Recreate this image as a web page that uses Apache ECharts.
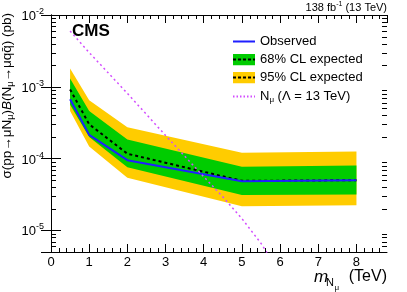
<!DOCTYPE html>
<html><head><meta charset="utf-8">
<script src="https://cdn.jsdelivr.net/npm/echarts@6/dist/echarts.min.js"></script>
<style>html,body{margin:0;padding:0;background:#fff}#c{width:407px;height:292px}</style>
</head><body><div id="c"></div>
<script>
// ---- data ----
const massPoints = [0.5, 1, 2, 5, 8];
const observed   = [6.7e-4, 2.14e-4, 9.5e-5, 4.85e-5, 5.0e-5];
const expected   = [9.2e-4, 3.0e-4, 1.17e-4, 4.9e-5, 5.0e-5];
const exp68Low   = [5.6e-4, 2.0e-4, 7.6e-5, 3.1e-5, 3.16e-5];
const exp68High  = [1.31e-3, 4.6e-4, 1.84e-4, 7.7e-5, 8.0e-5];
const exp95Low   = [4.6e-4, 1.47e-4, 5.4e-5, 2.17e-5, 2.24e-5];
const exp95High  = [1.8e-3, 6.5e-4, 2.73e-4, 1.21e-4, 1.26e-4];
const theoryMass = [0.5, 1, 2, 3, 4, 4.5, 5, 5.5, 6];
const theoryXsec = [6.0e-3, 3.0e-3, 8.1e-4, 2.1e-4, 5.6e-5, 2.93e-5, 1.46e-5, 6.6e-6, 2.5e-6];
const xTickLabels = ['0','1','2','3','4','5','6','7','8'];
const yTickExponents = ['-5','-4','-3','-2'];

const FONT = 'Liberation Sans, Arial, Helvetica, sans-serif';
const GREEN = '#00cc00', YELLOW = '#ffcc00', BLUE = '#1f1fff', MAG = '#d24dff';

// minor tick positions (axis decoration)
const yMinor = [];
for (let e = -6; e <= -3; e++) for (let k = 2; k <= 9; k++) {
  const v = k * Math.pow(10, e);
  if (v >= 4.99e-6 && v <= 1e-2) yMinor.push(v);
}
const xMinor = [];
for (let i = 1; i < 44; i++) if (i % 5 !== 0) xMinor.push(i * 0.2);

function pairs(xs, ys) { return xs.map((x, i) => [x, ys[i]]); }

function bandSeries(name, lo, hi, color) {
  return {
    type: 'custom', name, silent: true, z: 1,
    data: massPoints.map((m, i) => [m, lo[i], hi[i]]),
    encode: { x: 0, y: [1, 2] },
    itemStyle: { color },
    renderItem(params, api) {
      if (params.dataIndex !== 0) return null;
      const pts = [];
      for (let i = 0; i < massPoints.length; i++) pts.push(api.coord([massPoints[i], hi[i]]));
      for (let i = massPoints.length - 1; i >= 0; i--) pts.push(api.coord([massPoints[i], lo[i]]));
      return { type: 'polygon', shape: { points: pts }, style: { fill: color, stroke: null } };
    }
  };
}

function minorTicks(vals, isY) {
  return {
    type: 'custom', silent: true, z: 10, clip: false,
    data: vals.map(v => isY ? [1, v] : [v, 1e-3]),
    renderItem(params, api) {
      const cs = params.coordSys;
      const p = api.coord([api.value(0), api.value(1)]);
      const st = { stroke: '#000', lineWidth: 1 };
      if (isY) {
        const y = Math.round(p[1]) + 0.5, L = 5;
        return { type: 'group', children: [
          { type: 'line', shape: { x1: cs.x, y1: y, x2: cs.x + L, y2: y }, style: st },
          { type: 'line', shape: { x1: cs.x + cs.width - L, y1: y, x2: cs.x + cs.width, y2: y }, style: st }
        ]};
      }
      const x = Math.round(p[0]) + 0.5, L = 4;
      return { type: 'group', children: [
        { type: 'line', shape: { x1: x, y1: cs.y + cs.height, x2: x, y2: cs.y + cs.height - L }, style: st },
        { type: 'line', shape: { x1: x, y1: cs.y, x2: x, y2: cs.y + L }, style: st }
      ]};
    }
  };
}

function svgWrap(inner) {
  const s = "<svg xmlns='http://www.w3.org/2000/svg' width='22' height='12'>" + inner + "</svg>";
  return 'image://data:image/svg+xml;charset=utf-8,' + encodeURIComponent(s);
}
function bandIcon(fill) {
  return svgWrap("<rect x='0' y='0' width='22' height='12' fill='" + fill + "'/>" +
    "<line x1='0' y1='6' x2='22' y2='6' stroke='black' stroke-width='2' stroke-dasharray='3,2'/>");
}
function lineIcon(color, dash) {
  return svgWrap("<line x1='0' y1='6' x2='22' y2='6' stroke='" + color + "' stroke-width='2'" +
    (dash ? " stroke-dasharray='" + dash + "'" : '') + "/>");
}

const axisLineStyle = { show: true, lineStyle: { color: '#000', width: 1 } };

const chart = echarts.init(document.getElementById('c'), null, { renderer: 'canvas' });
chart.setOption({
  animation: false,
  backgroundColor: '#fff',
  textStyle: { fontFamily: FONT },
  grid: { left: 51, right: 20, top: 15, bottom: 40, containLabel: false },
  xAxis: [
    { type: 'value', min: 0, max: 8.8, interval: 1, position: 'bottom',
      axisLine: axisLineStyle, splitLine: { show: false },
      axisTick: { inside: true, length: 8, lineStyle: { color: '#000' } },
      axisLabel: { fontSize: 13, color: '#000', margin: 4, fontFamily: FONT, showMaxLabel: false,
        formatter: v => (Math.abs(v - Math.round(v)) < 1e-6 && xTickLabels[Math.round(v)] !== undefined) ? xTickLabels[Math.round(v)] : '' } },
    { type: 'value', min: 0, max: 8.8, interval: 1, position: 'top',
      axisLine: axisLineStyle, splitLine: { show: false },
      axisTick: { inside: true, length: 8, lineStyle: { color: '#000' } },
      axisLabel: { show: false } }
  ],
  yAxis: [
    { type: 'log', logBase: 10, min: 5e-6, max: 1e-2, position: 'left',
      axisLine: axisLineStyle, splitLine: { show: false },
      axisTick: { inside: true, length: 10, lineStyle: { color: '#000' } },
      axisLabel: { color: '#000', margin: 7, fontFamily: FONT, showMinLabel: false,
        formatter: v => {
          const e = Math.log10(v), r = Math.round(e);
          if (Math.abs(e - r) > 1e-3) return '';
          const lab = yTickExponents.find(s => Number(s) === r);
          return lab ? '{b|10}{s|' + lab + '}' : '';
        },
        rich: { b: { fontSize: 13, fontFamily: FONT, color: '#000', lineHeight: 16, verticalAlign: 'bottom' },
                s: { fontSize: 9, fontFamily: FONT, color: '#000', lineHeight: 9, verticalAlign: 'top' } } } },
    { type: 'log', logBase: 10, min: 5e-6, max: 1e-2, position: 'right',
      axisLine: axisLineStyle, splitLine: { show: false },
      axisTick: { inside: true, length: 10, lineStyle: { color: '#000' } },
      axisLabel: { show: false } }
  ],
  legend: {
    orient: 'vertical', left: 228, top: 30, itemWidth: 22, itemHeight: 12, itemGap: 5,
    selectedMode: false,
    textStyle: { fontSize: 13, color: '#000', fontFamily: FONT, lineHeight: 13,
      rich: { n: { fontSize: 13, fontFamily: FONT, color: '#000', lineHeight: 15, verticalAlign: 'middle' },
              s: { fontSize: 8, fontFamily: FONT, color: '#000', lineHeight: 8, verticalAlign: 'bottom' } } },
    formatter: name => name === 'Nmu' ? '{n|N}{s|μ}{n| (Λ = 13 TeV)}' : name,
    data: [
      { name: 'Observed', icon: lineIcon(BLUE) },
      { name: '68% CL expected', icon: bandIcon(GREEN) },
      { name: '95% CL expected', icon: bandIcon(YELLOW) },
      { name: 'Nmu', icon: lineIcon(MAG, '1.5,2') }
    ]
  },
  series: [
    bandSeries('95% CL expected', exp95Low, exp95High, YELLOW),
    bandSeries('68% CL expected', exp68Low, exp68High, GREEN),
    { type: 'line', name: 'Expected', data: pairs(massPoints, expected), symbol: 'none', z: 3,
      lineStyle: { color: '#000', width: 2, type: [3, 3] }, itemStyle: { color: '#000' } },
    { type: 'line', name: 'Observed', data: pairs(massPoints, observed), symbol: 'none', z: 4,
      lineStyle: { color: BLUE, width: 2 }, itemStyle: { color: BLUE } },
    { type: 'line', name: 'Nmu', data: pairs(theoryMass, theoryXsec), symbol: 'none', z: 5, clip: true,
      lineStyle: { color: MAG, width: 1.5, type: [2, 3] }, itemStyle: { color: MAG } },
    minorTicks(yMinor, true),
    minorTicks(xMinor, false)
  ],
  graphic: [
    { type: 'text', x: 72, y: 31, style: { text: 'CMS', font: 'bold 17px ' + FONT, fill: '#000', align: 'left', verticalAlign: 'middle' } },
    { type: 'text', x: 387, y: 7, style: { text: '{a|138 fb}{s|-1}{a| (13 TeV)}', align: 'right', verticalAlign: 'middle',
        rich: { a: { fontSize: 11, fontFamily: FONT, fill: '#000', lineHeight: 12, verticalAlign: 'bottom' },
                s: { fontSize: 7, fontFamily: FONT, fill: '#000', lineHeight: 7, verticalAlign: 'top' } } } },
    { type: 'text', x: 314, y: 277, style: { text: 'm', font: 'italic 17px ' + FONT, fill: '#000', align: 'left', verticalAlign: 'middle' } },
    { type: 'text', x: 326, y: 283, style: { text: 'N', font: '11px ' + FONT, fill: '#000', align: 'left', verticalAlign: 'middle' } },
    { type: 'text', x: 334.5, y: 287.5, style: { text: 'μ', font: '8px ' + FONT, fill: '#000', align: 'left', verticalAlign: 'middle' } },
    { type: 'text', x: 387, y: 276.5, style: { text: '(TeV)', font: '16px ' + FONT, fill: '#000', align: 'right', verticalAlign: 'middle' } },
    { type: 'text', x: 7, y: 13, rotation: Math.PI / 2,
      style: { text: '{n|σ(pp→μN}{s|μ}{n|)}{i|B}{n|(N}{s|μ}{n|→μqq̄) (pb)}', align: 'right', verticalAlign: 'middle',
        rich: { n: { fontSize: 13.5, fontFamily: FONT, fill: '#000', lineHeight: 16, verticalAlign: 'middle' },
                i: { fontSize: 13.5, fontFamily: FONT, fontStyle: 'italic', fill: '#000', lineHeight: 16, verticalAlign: 'middle' },
                s: { fontSize: 9, fontFamily: FONT, fill: '#000', lineHeight: 9, verticalAlign: 'bottom' } } } }
  ]
});
</script>
</body></html>
